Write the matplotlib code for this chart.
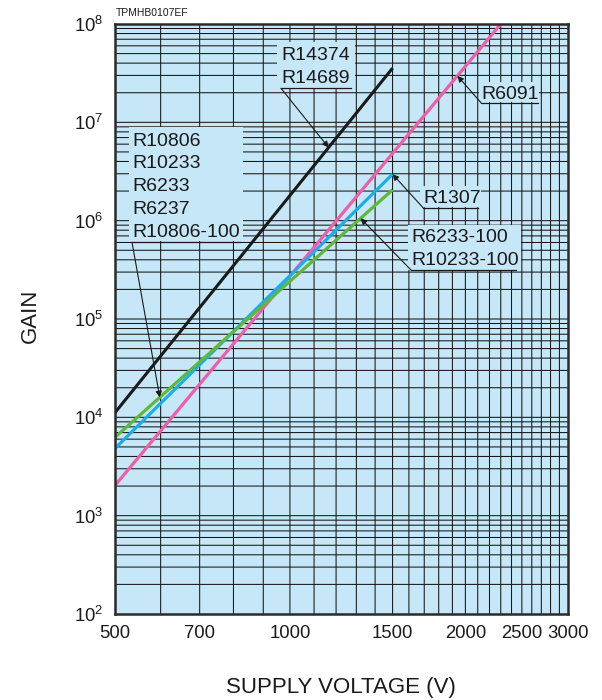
import numpy as np
import matplotlib
matplotlib.use('Agg')
import matplotlib.pyplot as plt
from matplotlib.patches import Rectangle

plt.rcParams['font.family'] = ['Liberation Sans', 'DejaVu Sans']
plt.rcParams['mathtext.fontset'] = 'custom'
plt.rcParams['mathtext.rm'] = 'Liberation Sans'
plt.rcParams['mathtext.it'] = 'Liberation Sans:italic'

# ---------------- data ----------------
x_ticks = [500, 700, 1000, 1500, 2000, 2500, 3000]
x_tick_labels = ['500', '700', '1000', '1500', '2000', '2500', '3000']
y_exponents = [2, 3, 4, 5, 6, 7, 8]

black_v = [500, 1500]          # R14374 / R14689
black_g = [1.1e4, 3.56e7]
pink_v = [500, 2300]           # R6091
pink_g = [2.0e3, 1.0e8]
blue_v = [500, 1500]           # R1307
blue_g = [4.77e3, 2.97e6]
green_v = [500, 1500]          # R10806 group, R6233-100, R10233-100
green_g = [6.2e3, 2.06e6]

BG = '#c6e7f7'
W, H = 602, 700
fig = plt.figure(figsize=(W / 100, H / 100), dpi=100)
L, R, T, B = 114.5, 568.0, 24.0, 614.0
ax = fig.add_axes([L / W, (H - B) / H, (R - L) / W, (B - T) / H])
ax.set_xscale('log')
ax.set_yscale('log')
ax.set_xlim(500, 3000)
ax.set_ylim(1e2, 1e8)
ax.set_facecolor(BG)

# grid (unsnapped 1px dark lines -> natural dark/gray mix like the scan)
gcol = '#161616'
for v in range(600, 3000, 100):
    ax.axvline(v, color=gcol, lw=0.75, zorder=1, snap=False)
for e in range(2, 8):
    for m in range(1, 10):
        if m == 1 and e == 2:
            continue
        ax.axhline(m * 10 ** e, color=gcol, lw=0.75, zorder=1, snap=False)

# series
ax.plot(black_v, black_g, color='#1a1a1a', lw=2.2, zorder=5, solid_capstyle='butt')
ax.plot(pink_v, pink_g, color='#ef5ea8', lw=2.3, zorder=5, solid_capstyle='butt')
ax.plot(blue_v, blue_g, color='#1caeea', lw=2.3, zorder=5, solid_capstyle='butt')
ax.plot(green_v, green_g, color='#5db83b', lw=2.3, zorder=6, solid_capstyle='butt')


def on_line(vs, gs, v):
    lv = np.log10(vs)
    lg = np.log10(gs)
    return v, 10 ** np.interp(np.log10(v), lv, lg)


def fx(px):
    return (px - L) / (R - L)


def fy(py):
    return (B - py) / (B - T)


def label_block(lines, x_px, base_px, box, ul, tip):
    bx0, by0, bx1, by1 = box
    ax.add_patch(Rectangle((fx(bx0), fy(by1)), fx(bx1) - fx(bx0), fy(by0) - fy(by1),
                           transform=ax.transAxes, facecolor=BG, edgecolor='none', zorder=3))
    for s, b in zip(lines, base_px):
        ax.text(fx(x_px), fy(b), s, transform=ax.transAxes, fontsize=14,
                ha='left', va='baseline', color='#1a1a1a', zorder=7)
    ux0, ux1, uy = ul
    ax.plot([fx(ux0), fx(ux1)], [fy(uy), fy(uy)], transform=ax.transAxes,
            color='#1a1a1a', lw=0.9, zorder=7)
    ax.annotate('', xy=tip, xycoords='data', xytext=(fx(ux0), fy(uy)),
                textcoords='axes fraction',
                arrowprops=dict(arrowstyle='-|>', color='#1a1a1a', lw=0.8,
                                mutation_scale=9, shrinkA=0, shrinkB=0),
                zorder=8)


label_block(['R14374', 'R14689'], 281, [60.3, 82.7], (277, 42, 355, 88),
            (281, 351, 88.3), on_line(black_v, black_g, 1165))
label_block(['R6091'], 481.5, [99.2], (479, 82, 539, 102),
            (481, 538, 102.7), on_line(pink_v, pink_g, 1938))
label_block(['R1307'], 423.3, [203.0], (420, 186, 481, 207),
            (423, 478, 207.7), on_line(blue_v, blue_g, 1500))
label_block(['R6233-100', 'R10233-100'], 411.7, [242.0, 265.3], (408, 225, 521, 270),
            (411, 516, 270.0), on_line(green_v, green_g, 1322))
label_block(['R10806', 'R10233', 'R6233', 'R6237', 'R10806-100'], 132.3,
            [145.8, 168.3, 190.7, 214.5, 237.0], (129, 127, 243, 241),
            (132, 240, 242.3), on_line(green_v, green_g, 598))

# ticks
ax.set_xticks(x_ticks)
ax.set_xticklabels(x_tick_labels)
ax.xaxis.set_minor_locator(matplotlib.ticker.NullLocator())
ax.set_yticks([10.0 ** e for e in y_exponents])
ax.set_yticklabels([r'$\mathregular{10^{%d}}$' % e for e in y_exponents])
ax.yaxis.set_minor_locator(matplotlib.ticker.NullLocator())
ax.tick_params(axis='both', length=0, labelsize=13.3, colors='#1a1a1a')
ax.tick_params(axis='x', pad=8)
ax.tick_params(axis='y', pad=8)

for sp in ax.spines.values():
    sp.set_linewidth(1.8)
    sp.set_color('#2a2a2a')
    sp.set_zorder(10)

fig.text((L + R) / 2 / W, 1 - 688 / H, 'SUPPLY VOLTAGE (V)', fontsize=16,
         ha='center', va='center', color='#1a1a1a')
fig.text(30 / W, 1 - 316 / H, 'GAIN', fontsize=16, rotation=90,
         ha='center', va='center', color='#1a1a1a')
fig.text(116 / W, 1 - 13 / H, 'TPMHB0107EF', fontsize=7.5,
         ha='left', va='center', color='#1a1a1a')

fig.savefig('out.png', dpi=100)
